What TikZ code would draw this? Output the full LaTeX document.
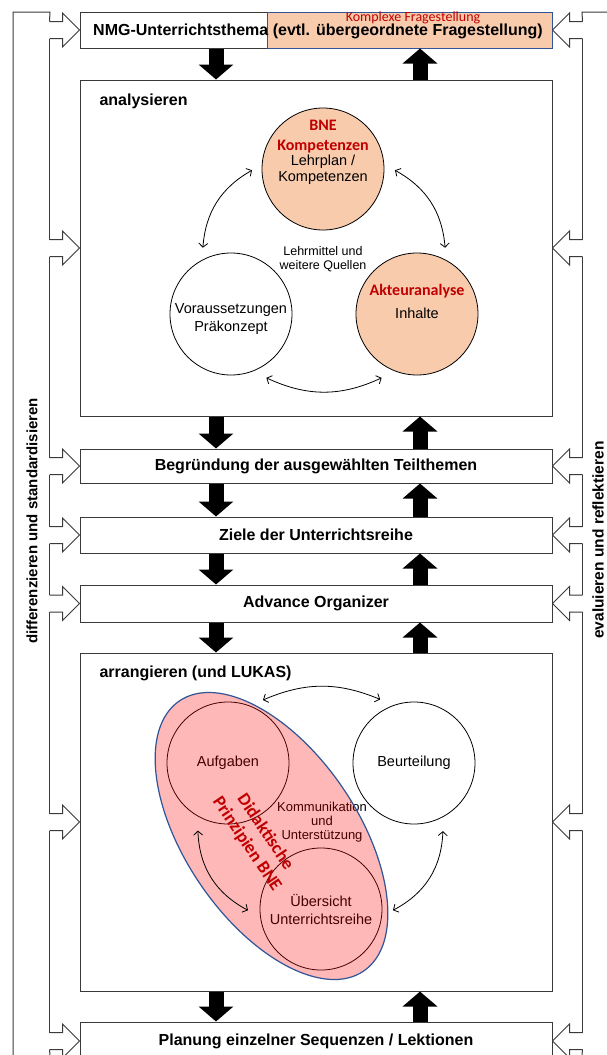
\documentclass[tikz,border=0pt]{standalone}
\usepackage{fontspec}
\setmainfont{Liberation Sans}
\newfontfamily\calfont{Carlito}
\usetikzlibrary{arrows.meta,shapes.geometric}

\definecolor{lachs}{HTML}{F8CBAD}
\definecolor{blaurand}{HTML}{2F5597}
\definecolor{bnerot}{HTML}{C00000}
\definecolor{grau}{HTML}{3A3A3A}

\begin{document}
\begin{tikzpicture}[x=1pt, y=-1pt,
    box/.style={draw=grau, line width=1pt, fill=white, minimum width=472pt, inner sep=0pt},
    titel/.style={font=\bfseries\fontsize{16}{18}\selectfont},
    kreis/.style={circle, draw=black, line width=0.8pt, minimum size=122pt, inner sep=0pt, align=center, font=\fontsize{14.5}{18}\selectfont},
    ktext/.style={align=center, font=\fontsize{14.5}{18}\selectfont},
    rottext/.style={align=center, text=bnerot, font=\calfont\bfseries\fontsize{16}{20}\selectfont},
    blk/.style={line width=15pt, -{Triangle[width=34pt,length=15pt]}},
    dbl/.style={line width=0.8pt, {Straight Barb[length=4pt,width=9pt]}-{Straight Barb[length=4pt,width=9pt]}},
    rand/.style={draw=grau, line width=1pt}]

    \useasboundingbox (0,0) rectangle (607,1055);
    \clip (0,0) rectangle (607,1055);
    \fill[white] (0,0) rectangle (607,1055);

    % Kaesten
    \node[box, minimum height=36pt] (nmg) at (316,30) {};
    \node[box, minimum height=336pt] (ana) at (316,248) {};
    \node[box, minimum height=34pt, titel] (beg) at (316,466) {Begründung der ausgewählten Teilthemen};
    \node[box, minimum height=36pt, titel] (zie) at (316,535) {Ziele der Unterrichtsreihe};
    \node[box, minimum height=37pt, titel] (adv) at (316,603.5) {Advance Organizer};
    \node[box, minimum height=338pt] (arr) at (316,822) {};
    \node[box, minimum height=38pt, titel] (pla) at (316,1041) {Planung einzelner Sequenzen / Lektionen};

    % Fragestellung
    \node[draw=blaurand, fill=lachs, line width=1pt, minimum width=285pt, minimum height=36pt, inner sep=0pt] (kfr) at (409.5,30) {};
    \node[text=bnerot, font=\calfont\fontsize{14}{16}\selectfont] (kfrtext) at (413,18) {Komplexe Fragestellung};
    \node[titel] (nmgtext) at (318,31) {NMG-Unterrichtsthema (evtl. übergeordnete Fragestellung)};

    \node[titel, anchor=west] (analabel) at (96,101) {analysieren};
    \node[titel, anchor=west] (arrlabel) at (96,673) {arrangieren (und LUKAS)};

    % analysieren
    \node[kreis, fill=lachs] (kom) at (323,169) {};
    \node[kreis] (vor) at (231,314) {};
    \node[kreis, fill=lachs] (akt) at (417,314) {};
    \node[rottext] (komrot) at (323,137) {BNE\\Kompetenzen};
    \node[align=center, font=\fontsize{14.5}{16}\selectfont] (komtext) at (323,170) {Lehrplan /\\Kompetenzen};
    \node[ktext] (vortext) at (231,319) {Voraussetzungen\\Präkonzept};
    \node[rottext] (aktrot) at (417,291) {Akteuranalyse};
    \node[ktext] (akttext) at (417,313) {Inhalte};
    \node[align=center, font=\fontsize{12.5}{14}\selectfont] (lehr) at (323,259) {Lehrmittel und\\weitere Quellen};

    \draw[dbl] ([shift={(181:71pt)}]kom.center) to[bend right=28] ([shift={(113:72pt)}]vor.center);
    \draw[dbl] ([shift={(-1:72pt)}]kom.center) to[bend left=28] ([shift={(67:72pt)}]akt.center);
    \draw[dbl] ([shift={(-61:73pt)}]vor.center) to[bend right=25] ([shift={(-119:73pt)}]akt.center);

    % arrangieren
    \node[kreis] (auf) at (228,763) {Aufgaben};
    \node[kreis] (beu) at (414,763) {Beurteilung};
    \node[kreis] (ueb) at (321,909) {Übersicht\\Unterrichtsreihe};
    \node[align=center, font=\fontsize{13}{14}\selectfont] (komm) at (322,822) {Kommunikation\\und\\Unterstützung};

    \node[ellipse, draw=blaurand, line width=1.2pt, fill=red, fill opacity=0.28, draw opacity=1, minimum width=327pt, minimum height=172pt, rotate=-55.7, inner sep=0pt] (bne) at (271.5,836) {};
    \node[rotate=-56, align=center, text=bnerot, font=\calfont\bfseries\fontsize{18}{22}\selectfont] (didtext) at (256,838) {Didaktische\\Prinzipien BNE};

    \draw[dbl] ([shift={(61:72pt)}]auf.center) to[bend left=23] ([shift={(118:72pt)}]beu.center);
    \draw[dbl] ([shift={(246:74pt)}]auf.center) to[bend right=30] ([shift={(181:73pt)}]ueb.center);
    \draw[dbl] ([shift={(-67:74pt)}]beu.center) to[bend left=30] ([shift={(-1:72pt)}]ueb.center);

    % schwarze Pfeile
    \coordinate (xab) at (216,0);
    \coordinate (xauf) at (420,0);
    \foreach \a/\b in {nmg/ana, ana/beg, beg/zie, zie/adv, adv/arr, arr/pla} {
        \draw[blk] (\a.south -| xab) -- (\b.north -| xab);
        \draw[blk] (\b.north -| xauf) -- (\a.south -| xauf);
    }

    % Rueckkopplung links und rechts
    \draw[rand] (13,1055) -- (13,12) -- (50,12) -- ([shift={(-30,-8.5)}]nmg.west);
    \draw[rand] (607,12) -- (582,12) -- ([shift={(30,-8.5)}]nmg.east);
    \foreach \b in {nmg,ana,beg,zie,adv,arr,pla} {
        \draw[rand] ([shift={(-30,-8.5)}]\b.west) -- ++(13,0) -- ++(0,-8.5) -- (\b.west) -- ++(-17,17) -- ++(0,-8.5) -- ++(-13,0);
        \draw[rand] ([shift={(30,-8.5)}]\b.east) -- ++(-13,0) -- ++(0,-8.5) -- (\b.east) -- ++(17,17) -- ++(0,-8.5) -- ++(13,0);
    }
    \foreach \a/\b in {nmg/ana, ana/beg, beg/zie, zie/adv, adv/arr, arr/pla} {
        \draw[rand] ([shift={(-30,8.5)}]\a.west) -- ([shift={(-30,-8.5)}]\b.west);
        \draw[rand] ([shift={(30,8.5)}]\a.east) -- ([shift={(30,-8.5)}]\b.east);
    }
    \draw[rand] ([shift={(-30,8.5)}]pla.west) -- (50,1055);
    \draw[rand] ([shift={(30,8.5)}]pla.east) -- (582,1055);

    \node[rotate=90, font=\bfseries\fontsize{15}{18}\selectfont] (diff) at (32,521) {differenzieren und standardisieren};
    \node[rotate=90, font=\bfseries\fontsize{15.5}{18}\selectfont] (eval) at (598,540) {evaluieren und reflektieren};
\end{tikzpicture}
\end{document}
